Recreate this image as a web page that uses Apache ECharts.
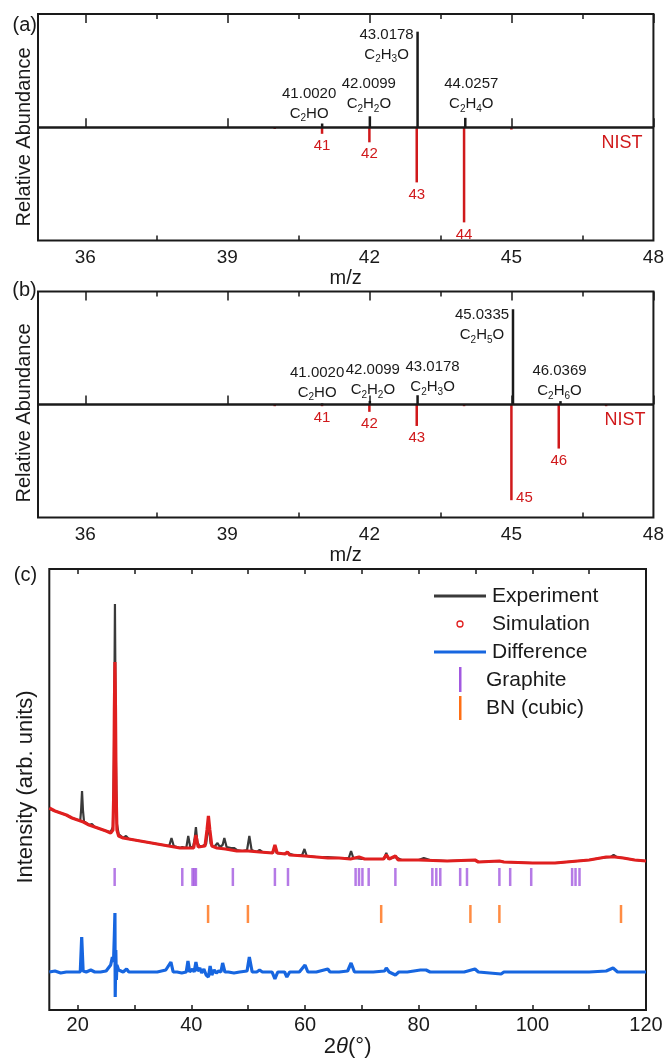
<!DOCTYPE html>
<html>
<head>
<meta charset="utf-8">
<script src="https://cdn.jsdelivr.net/npm/echarts@6/dist/echarts.min.js"></script>
<style>
  html, body { margin: 0; padding: 0; background: #fff; }
  #chart { width: 667px; height: 1061px; }
</style>
</head>
<body>
<div id="chart"></div>
<script>
const FONT = "'Liberation Sans', Arial, sans-serif";
const INK = "#1a1a1a";
const RED = "#d0191b";

// (a) measured spectrum (up) and NIST reference (down)
const aMass = [41.0020, 42.0099, 43.0178, 44.0257];
const aAbund = [0.033, 0.097, 0.844, 0.083];
const aFormula = ["C2HO", "C2H2O", "C2H3O", "C2H4O"];
const aNistMz = [40, 41, 42, 43, 44, 45];
const aNist = [-0.015, -0.058, -0.133, -0.487, -0.84, -0.02];
const aNistLabel = ["", "41", "42", "43", "44", ""];

// (b)
const bMass = [41.0020, 42.0099, 43.0178, 45.0335, 46.0369];
const bAbund = [0.01, 0.032, 0.082, 0.843, 0.03];
const bFormula = ["C2HO", "C2H2O", "C2H3O", "C2H5O", "C2H6O"];
const bNistMz = [40, 41, 42, 43, 44, 45, 46, 47];
const bNist = [-0.015, -0.015, -0.065, -0.19, -0.015, -0.847, -0.39, -0.015];
const bNistLabel = ["", "41", "42", "43", "", "45", "46", ""];

const mzTicks = [36, 39, 42, 45, 48];
const mzMinor = [37.5, 40.5, 43.5, 46.5];

// (c) XRD, 2theta vs intensity (arb. units)
const expPattern = [[15,201],[16,199],[17,197],[18,195],[19,192],[20,190],[20.45,190],[20.6,200],[20.76,219],[20.92,200],[21.1,189],[22,185],[22.5,186],[23,183],[24,181],[25,179],[25.8,178],[26.2,183],[26.38,250],[26.55,406],[26.72,250],[26.9,186],[27.2,176],[28,172],[28.5,174],[29,171],[30,170],[31,169],[32,168],[33,167],[34,166],[35,165],[36.1,164],[36.5,172],[36.9,164],[37.5,163],[38,162],[38.4,163],[39.1,162],[39.45,174],[39.8,163],[40.3,163],[40.55,170],[40.8,183],[41.05,168],[41.4,164],[42,164],[42.6,166],[43,186],[43.4,166],[44,163],[44.6,167],[45,163],[45.5,165],[45.8,172],[46.2,163],[47,162],[47.5,162],[48,160],[49,159],[49.8,160],[50.2,174],[50.6,160],[51.5,158],[52,160],[52.5,158],[54,157],[54.4,158],[54.7,163],[55,157],[56,156],[56.9,157],[58,155],[59.5,155],[59.9,161],[60.3,154],[62,153],[64,153],[66,152],[67.7,152],[68.1,159],[68.5,152],[70,151],[72,151],[73.9,151],[74.3,157],[74.7,151],[75.9,153],[77,150],[80,150],[80.9,152],[82,150],[85,149],[89.9,150],[90.5,148],[94.2,149],[95,148],[100,147],[104,147],[108,149],[110,150],[112,152],[113.8,153],[114.3,155],[114.8,153],[116,152],[118,150],[120,149]];
const simPattern = [[15,202],[16,199],[17,197],[18,195],[19,192],[20,190],[21,188],[22,185],[23,183],[24,181],[25,179],[25.8,177],[26.2,180],[26.35,220],[26.45,300],[26.55,348],[26.65,300],[26.75,220],[26.9,180],[27.2,174],[28,172],[29,171],[30,170],[31,169],[32,168],[33,167],[34,166],[35,165],[36,164],[37,163],[38,162],[39,162],[40.4,162],[40.8,175],[41.2,163],[42.4,164],[42.75,180],[43,194],[43.25,180],[43.6,164],[44.5,162],[46,161],[47,160],[48,159],[50,159],[52,158],[54.3,157],[54.7,165],[55.1,157],[56.5,156],[56.9,158],[57.3,155],[60,154],[62,153],[64,152],[66,152],[68,151],[69.5,153],[70.5,151],[72,151],[73.8,151],[74.3,155],[74.8,151],[75.9,154],[76.4,150],[80,150],[85,149],[89.9,150],[90.5,148],[94.2,149],[95,148],[100,147],[104,147],[108,149],[110,150],[112,152],[113,153],[114.5,153],[116,152],[118,150],[120,149]];
const diffPattern = [[15,38],[16,39],[17,37],[18,38],[19,38],[20,38],[20.45,38],[20.7,73],[20.95,39],[21.5,38],[22.3,40],[23,38],[24,38],[25,39],[25.8,45],[26.1,53],[26.3,48],[26.45,75],[26.55,97],[26.6,13],[26.7,60],[26.8,30],[26.9,45],[27.2,40],[28,38],[28.6,41],[29,38],[30,38],[32,38],[34,38],[35.5,40],[36.4,48],[36.8,38],[37.5,38],[38.3,37],[39.1,38],[39.4,49],[39.7,38],[40.2,41],[40.5,38],[40.8,48],[41.1,39],[41.5,42],[41.8,37],[42.2,41],[42.6,35],[43,33],[43.3,44],[43.6,35],[44,40],[44.4,37],[44.8,39],[45.2,38],[45.5,47],[45.9,38],[46.5,38],[47.5,37],[48.5,38],[49.8,39],[50.2,53],[50.7,38],[51.5,38],[52,40],[52.5,38],[54.2,38],[54.7,31],[55.2,38],[56.4,38],[56.8,33],[57.3,38],[59,38],[60,45],[60.5,38],[62,38],[64,41],[64.4,38],[66,38],[67.5,39],[68.1,47],[68.7,38],[70,38],[72,38],[74,39],[74.3,42],[74.8,38],[75.9,35],[76.5,38],[78,38],[80.3,40],[81.3,40],[82,38],[85,38],[88,38],[89.9,41],[90.5,38],[94.5,36],[95,38],[100,38],[105,38],[110,38],[113,39],[114.2,42],[115,38],[117,38],[120,38]];
const graphitePos = [26.5, 38.4, 40.2, 40.5, 40.8, 47.3, 54.7, 57.0, 68.9, 69.5, 70.1, 71.2, 75.9, 82.4, 83.1, 83.8, 87.3, 88.5, 94.2, 96.1, 99.8, 107.0, 107.6, 108.3];
const bnPos = [42.94, 49.95, 73.4, 89.1, 94.2, 115.6];
const graphiteLevel = 133;
const bnLevel = 96;
const xrdTicks = [20, 30, 40, 50, 60, 70, 80, 90, 100, 110, 120];
const xrdLabels = [20, 40, 60, 80, 100, 120];

// label placement relative to each stem
const aLabelOffset = [[-13, 0], [-1, -2], [-31, 33], [6, -4]];
const bLabelOffset = [[-5, -1], [3, -1], [15, 2], [-31, 36], [-1, 0]];
const bNistOffset = { 5: [13, -14] };

function sub(f) {
  return "{n|" + f.replace(/(\d)/g, "}{s|$1}{n|") + "}";
}

function measItems(mass, ab, formula, offs) {
  return mass.map((m, i) => ({
    value: [m, ab[i]],
    label: { offset: offs[i], formatter: "{m|" + m.toFixed(4) + "}\n" + sub(formula[i]) }
  }));
}

function nistItems(mz, ab, lab, offs) {
  return mz.map((m, i) => ({
    value: [m, ab[i]],
    label: { show: lab[i] !== "", formatter: lab[i], offset: (offs && offs[i]) || [0, 0] }
  }));
}

function xAxes(grid, min, max, majors, minors, majorLen, minorLen, labelSize, labelMargin, name, nameGap, nameStyle) {
  const base = { type: "value", gridIndex: grid, min, max, splitLine: { show: false }, axisLine: { show: false } };
  const axes = [
    Object.assign({}, base, {
      position: "bottom",
      axisTick: { inside: true, length: majorLen, customValues: majors, lineStyle: { color: INK, width: 1.5 } },
      axisLabel: { customValues: nameStyle ? xrdLabels : majors, fontSize: labelSize, margin: labelMargin, color: INK, fontFamily: FONT },
      name, nameLocation: "middle", nameGap,
      nameTextStyle: nameStyle || { fontSize: 20, color: INK, fontFamily: FONT }
    }),
    Object.assign({}, base, {
      position: "top",
      axisTick: { inside: true, length: majorLen, customValues: majors, lineStyle: { color: INK, width: 1.5 } },
      axisLabel: { show: false }
    })
  ];
  if (minors) {
    axes.push(Object.assign({}, base, {
      position: "bottom",
      axisTick: { inside: true, length: minorLen, customValues: minors, lineStyle: { color: INK, width: 1.5 } },
      axisLabel: { show: false }
    }));
    axes.push(Object.assign({}, base, {
      position: "top",
      axisTick: { inside: true, length: minorLen, customValues: minors, lineStyle: { color: INK, width: 1.5 } },
      axisLabel: { show: false }
    }));
  }
  return axes;
}

const gridBox = { show: true, borderColor: INK, borderWidth: 2, backgroundColor: "transparent" };
const yHidden = (g, min, max) => ({
  type: "value", gridIndex: g, min, max,
  axisLine: { show: false }, axisTick: { show: false }, axisLabel: { show: false }, splitLine: { show: false }
});

const measLabel = {
  show: true, position: "top", distance: 0, color: INK,
  rich: {
    m: { fontSize: 15, lineHeight: 20, fontFamily: FONT, color: INK },
    n: { fontSize: 15, lineHeight: 20, fontFamily: FONT, color: INK },
    s: { fontSize: 10, lineHeight: 14, verticalAlign: "bottom", fontFamily: FONT, color: INK }
  }
};
const nistLabel = { position: "bottom", distance: 4, fontSize: 15, lineHeight: 16, color: RED, fontFamily: FONT };
const zeroLine = {
  silent: true, symbol: "none", label: { show: false },
  lineStyle: { color: INK, width: 2.5, type: "solid" },
  data: [{ yAxis: 0 }]
};

const txt = (x, y, text, size, extra, rotation) => ({
  type: "text", x, y, rotation: rotation || 0,
  style: Object.assign({ text, fontSize: size, fontFamily: FONT, fill: INK, align: "center", verticalAlign: "middle" }, extra || {})
});

const chart = echarts.init(document.getElementById("chart"), null, { renderer: "canvas" });

chart.setOption({
  animation: false,
  textStyle: { fontFamily: FONT },
  grid: [
    Object.assign({ left: 38, top: 14, right: 13.5, height: 226.5 }, gridBox),
    Object.assign({ left: 38, top: 291.5, right: 13.5, height: 226 }, gridBox),
    Object.assign({ left: 49.3, top: 569, right: 21, height: 441 }, gridBox)
  ],
  xAxis: [
    ...xAxes(0, 35, 48, mzTicks, mzMinor, 9, 5, 19, 8, "m/z", 28),
    ...xAxes(1, 35, 48, mzTicks, mzMinor, 9, 5, 19, 8, "m/z", 27),
    ...xAxes(2, 15, 120, xrdTicks, null, 5, 0, 20, 5, "{a|2}{b|θ}{a|(°)}", 25, {
      rich: {
        a: { fontSize: 22, fontFamily: FONT, color: INK },
        b: { fontSize: 22, fontFamily: FONT, fontStyle: "italic", color: INK }
      }
    })
  ],
  yAxis: [yHidden(0, -1, 1), yHidden(1, -1, 1), yHidden(2, 0, 441)],
  series: [
    { type: "bar", xAxisIndex: 0, yAxisIndex: 0, barWidth: 2.5, barGap: "-100%", z: 3,
      itemStyle: { color: INK }, label: measLabel, markLine: zeroLine,
      data: measItems(aMass, aAbund, aFormula, aLabelOffset) },
    { type: "bar", xAxisIndex: 0, yAxisIndex: 0, barWidth: 2.5, barGap: "-100%", z: 2,
      itemStyle: { color: RED }, label: nistLabel,
      data: nistItems(aNistMz, aNist, aNistLabel) },
    { type: "bar", xAxisIndex: 4, yAxisIndex: 1, barWidth: 2.5, barGap: "-100%", z: 3,
      itemStyle: { color: INK }, label: measLabel, markLine: zeroLine,
      data: measItems(bMass, bAbund, bFormula, bLabelOffset) },
    { type: "bar", xAxisIndex: 4, yAxisIndex: 1, barWidth: 2.5, barGap: "-100%", z: 2,
      itemStyle: { color: RED }, label: nistLabel,
      data: nistItems(bNistMz, bNist, bNistLabel, bNistOffset) },
    { name: "Experiment", type: "line", xAxisIndex: 8, yAxisIndex: 2, symbol: "none", z: 2,
      lineStyle: { color: "#3a3a3a", width: 2.2 }, data: expPattern },
    { name: "Simulation", type: "line", xAxisIndex: 8, yAxisIndex: 2, symbol: "none", z: 3,
      lineStyle: { color: "#e01f1f", width: 3.2 }, data: simPattern },
    { name: "Difference", type: "line", xAxisIndex: 8, yAxisIndex: 2, symbol: "none", z: 2,
      lineStyle: { color: "#1766e0", width: 3.2 }, data: diffPattern },
    { name: "Graphite", type: "scatter", xAxisIndex: 8, yAxisIndex: 2, symbol: "rect", symbolSize: [2.5, 18],
      itemStyle: { color: "#a259e0" }, data: graphitePos.map(p => [p, graphiteLevel]) },
    { name: "BN (cubic)", type: "scatter", xAxisIndex: 8, yAxisIndex: 2, symbol: "rect", symbolSize: [2.5, 18],
      itemStyle: { color: "#ff6f14" }, data: bnPos.map(p => [p, bnLevel]) }
  ],
  graphic: [
    txt(24.7, 25, "(a)", 20),
    txt(24.5, 290, "(b)", 20),
    txt(25.5, 575, "(c)", 20),
    txt(24.6, 137, "Relative Abundance", 20, null, Math.PI / 2),
    txt(24.6, 413, "Relative Abundance", 20, null, Math.PI / 2),
    txt(26, 787, "Intensity (arb. units)", 22, null, Math.PI / 2),
    txt(622, 143, "NIST", 18, { fill: RED }),
    txt(625, 420, "NIST", 18, { fill: RED }),
    // legend of panel (c)
    { type: "line", shape: { x1: 434, y1: 596, x2: 486, y2: 596 }, style: { stroke: "#3a3a3a", lineWidth: 3 } },
    { type: "circle", shape: { cx: 460, cy: 624, r: 3 }, style: { fill: "#fff", stroke: "#e01f1f", lineWidth: 1.3 } },
    { type: "line", shape: { x1: 434, y1: 652, x2: 486, y2: 652 }, style: { stroke: "#1766e0", lineWidth: 3 } },
    { type: "rect", shape: { x: 459, y: 667, width: 2.5, height: 25 }, style: { fill: "#a259e0" } },
    { type: "rect", shape: { x: 459, y: 696, width: 2.5, height: 24 }, style: { fill: "#ff6f14" } },
    txt(492, 596, "Experiment", 21, { align: "left" }),
    txt(492, 624, "Simulation", 21, { align: "left" }),
    txt(492, 652, "Difference", 21, { align: "left" }),
    txt(486, 680, "Graphite", 21, { align: "left" }),
    txt(486, 708, "BN (cubic)", 21, { align: "left" })
  ]
});
</script>
</body>
</html>
